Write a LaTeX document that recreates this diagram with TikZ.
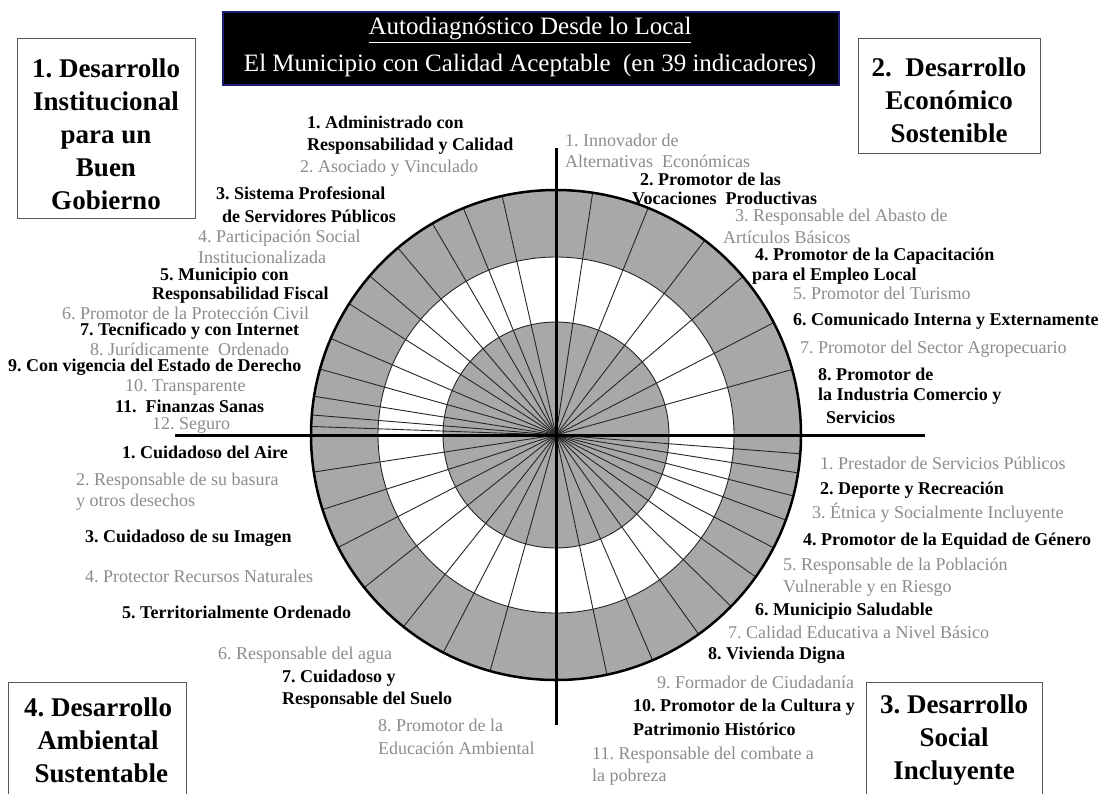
\documentclass[tikz,border=0pt]{standalone}
\usepackage{fontspec}
\setmainfont{Liberation Serif}
\frenchspacing
\definecolor{wheelgray}{gray}{0.66}
\definecolor{txtgray}{gray}{0.55}
\definecolor{boxgray}{gray}{0.35}
\definecolor{navy}{RGB}{30,30,110}
\begin{document}
\begin{tikzpicture}[x=1pt,y=-1pt,
  blab/.style={anchor=west,inner sep=0pt,font=\bfseries\fontsize{18}{22}\selectfont},
  glab/.style={anchor=west,inner sep=0pt,text=txtgray,font=\fontsize{18}{22}\selectfont},
  pbox/.style={draw=boxgray,line width=1.3pt,fill=white,anchor=north west,inner sep=0pt},
  ptitle/.style={font=\bfseries\fontsize{27}{33}\selectfont,align=center,inner sep=0pt},
  ttext/.style={text=white,inner sep=0pt,font=\fontsize{25}{35}\selectfont},
  spoke/.style={line width=0.9pt,draw=black!85},
  ring/.style={line width=0.9pt,draw=black!85},
  axisline/.style={line width=3pt,draw=black}]
\useasboundingbox (0,0) rectangle (1113,793);
\fill[white] (0,0) rectangle (1113,793);

% ---- wheel ----
\coordinate (C) at (556,435);
\fill[wheelgray] (C) circle[radius=245];
\fill[white] (C) circle[radius=178];
\fill[wheelgray] (C) circle[radius=113];
\draw[ring] (C) circle[radius=178];
\draw[ring] (C) circle[radius=113];
\foreach \a in {102.7,112.2,120.3,130.2,139.5,147.6,156.8,164.4,170.9,175.3,178,
                188.7,197.7,207.3,218.5,231.5,242.6,254.4,
                282,293.2,305.6,315.6,324.6,332.6,339.7,345.6,351.1,355.6,
                15.5,27.3,40.3,52.6,67.9,81.4}
  \draw[spoke] (C) -- ++(-\a:245);
\draw[line width=2.5pt] (C) circle[radius=245];
\coordinate (vt) at (556,148);
\coordinate (vb) at (556,725);
\coordinate (hl) at (175,435);
\coordinate (hr) at (925,435);
\draw[axisline] (vt) -- (vb);
\draw[axisline] (hl) -- (hr);

% ---- title ----
\node[draw=navy,line width=2pt,fill=black,anchor=north west,inner sep=0pt,
      minimum width=616pt,minimum height=73pt] (title) at (222,11) {};
\node[ttext] (t1) at (530,30) {\underline{Autodiagnóstico Desde lo Local}};
\node[ttext] (t2) at (530,65) {El Municipio con Calidad Aceptable\ \ (en 39 indicadores)};

% ---- corner boxes ----
\node[pbox,minimum width=178pt,minimum height=180pt] (b1) at (17,38) {};
\node[ptitle] (b1t) at (106,134) {1. Desarrollo\\Institucional\\para un\\Buen\\Gobierno};
\node[pbox,minimum width=182pt,minimum height=115pt] (b2) at (858,38) {};
\node[ptitle] (b2t) at (949,100) {2.\ \ Desarrollo\\Económico\\Sostenible};
\node[pbox,minimum width=176pt,minimum height=130pt] (b3) at (866,682) {};
\node[ptitle] (b3t) at (954,740) {3. Desarrollo\\Social\\Incluyente};
\node[pbox,minimum width=178pt,minimum height=130pt] (b4) at (8,682) {};
\node[ptitle] (b4t) at (98,740) {4. Desarrollo\\Ambiental\\\ Sustentable};

% ---- upper-left labels ----
\node[blab] (l1a) at (307,122) {1. Administrado con};
\node[blab] (l1b) at (307,146) {Responsabilidad y Calidad};
\node[glab] (l2)  at (300,168) {2. Asociado y Vinculado};
\node[blab] (l3a) at (216,193) {3. Sistema Profesional};
\node[blab] (l3b) at (222,216) {de Servidores Públicos};
\node[glab] (l4a) at (198,238) {4. Participación Social};
\node[glab] (l4b) at (198,257) {Institucionalizada};
\node[blab] (l5a) at (160,276) {5. Municipio con};
\node[blab] (l5b) at (152,295) {Responsabilidad Fiscal};
\node[glab] (l6)  at (62,313)  {6. Promotor de la Protección Civil};
\node[blab] (l7)  at (80,331)  {7. Tecnificado y con Internet};
\node[glab] (l8)  at (90,349)  {8. Jurídicamente\ \ Ordenado};
\node[blab] (l9)  at (8,367)   {9. Con vigencia del Estado de Derecho};
\node[glab] (l10) at (125,387) {10. Transparente};
\node[blab] (l11) at (115,406) {11.\ \ Finanzas Sanas};
\node[glab] (l12) at (152,425) {12. Seguro};

% ---- upper-right labels ----
\node[glab] (r1a) at (565,140) {1. Innovador de};
\node[glab] (r1b) at (565,161) {Alternativas\ \ Económicas};
\node[blab] (r2a) at (640,179) {2. Promotor de las};
\node[blab] (r2b) at (632,198) {Vocaciones\ \ Productivas};
\node[glab] (r3a) at (735,217) {3. Responsable del Abasto de};
\node[glab] (r3b) at (723,237) {Artículos Básicos};
\node[blab] (r4a) at (755,256) {4. Promotor de la Capacitación};
\node[blab] (r4b) at (752,276) {para el Empleo Local};
\node[glab] (r5)  at (793,293) {5. Promotor del Turismo};
\node[blab] (r6)  at (793,321) {6. Comunicado Interna y Externamente};
\node[glab] (r7)  at (800,349) {7. Promotor del Sector Agropecuario};
\node[blab] (r8a) at (818,374) {8. Promotor de};
\node[blab] (r8b) at (818,396) {la Industria Comercio y};
\node[blab] (r8c) at (826,417) {Servicios};

% ---- lower-right labels ----
\node[glab] (s1)  at (820,463) {1. Prestador de Servicios Públicos};
\node[blab] (s2)  at (820,490) {2. Deporte y Recreación};
\node[glab] (s3)  at (812,513) {3. Étnica y Socialmente Incluyente};
\node[blab] (s4)  at (803,541) {4. Promotor de la Equidad de Género};
\node[glab] (s5a) at (783,566) {5. Responsable de la Población};
\node[glab] (s5b) at (783,588) {Vulnerable y en Riesgo};
\node[blab] (s6)  at (755,611) {6. Municipio Saludable};
\node[glab] (s7)  at (728,632) {7. Calidad Educativa a Nivel Básico};
\node[blab] (s8)  at (708,655) {8. Vivienda Digna};
\node[glab] (s9)  at (657,682) {9. Formador de Ciudadanía};
\node[blab] (s10a) at (633,707) {10. Promotor de la Cultura y};
\node[blab] (s10b) at (633,729) {Patrimonio Histórico};
\node[glab] (s11a) at (592,755) {11. Responsable del combate a};
\node[glab] (s11b) at (592,777) {la pobreza};

% ---- lower-left labels ----
\node[blab] (e1)  at (122,452) {1. Cuidadoso del Aire};
\node[glab] (e2a) at (76,481)  {2. Responsable de su basura};
\node[glab] (e2b) at (76,502)  {y otros desechos};
\node[blab] (e3)  at (85,538)  {3. Cuidadoso de su Imagen};
\node[glab] (e4)  at (85,576)  {4. Protector Recursos Naturales};
\node[blab] (e5)  at (122,612) {5. Territorialmente Ordenado};
\node[glab] (e6)  at (218,655) {6. Responsable del agua};
\node[blab] (e7a) at (282,678) {7. Cuidadoso y};
\node[blab] (e7b) at (282,700) {Responsable del Suelo};
\node[glab] (e8a) at (378,725) {8. Promotor de la};
\node[glab] (e8b) at (378,748) {Educación Ambiental};
\end{tikzpicture}
\end{document}
